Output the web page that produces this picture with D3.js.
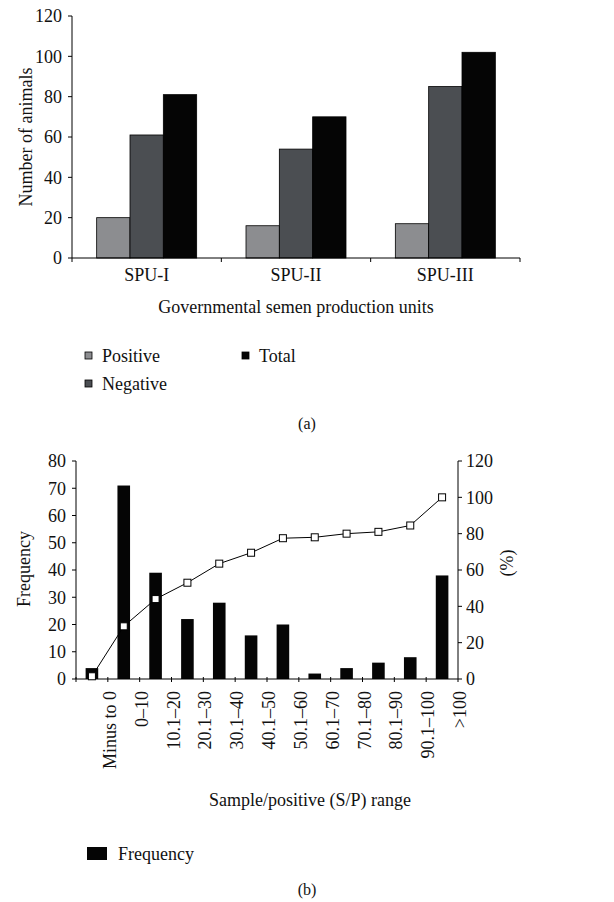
<!DOCTYPE html>
<html>
<head>
<meta charset="utf-8">
<script src="https://cdn.jsdelivr.net/npm/d3@7"></script>
<style>
  body { margin: 0; background: #fff; }
  text { font-family: "Liberation Serif", serif; fill: #111; }
</style>
</head>
<body>
<script>
// chart (a) data
const units = ['SPU-I', 'SPU-II', 'SPU-III'];
const series = ['Positive', 'Negative', 'Total'];
const positive = [20, 16, 17];
const negative = [61, 54, 85];
const total = [81, 70, 102];
const colA = ['#8c8d90', '#4b4e52', '#050505'];
const ticksA = [0, 20, 40, 60, 80, 100, 120];

// chart (b) data
const ranges = ['Minus to 0', '0\u201310', '10.1\u201320', '20.1\u201330', '30.1\u201340', '40.1\u201350',
  '50.1\u201360', '60.1\u201370', '70.1\u201380', '80.1\u201390', '90.1\u2013100', '>100'];
const freq = [4, 71, 39, 22, 28, 16, 20, 2, 4, 6, 8, 38];
const cumPct = [1.5, 29, 44, 53, 63.5, 69.5, 77.5, 78, 80, 81, 84.5, 100];
const ticksL = [0, 10, 20, 30, 40, 50, 60, 70, 80];
const ticksR = [0, 20, 40, 60, 80, 100, 120];

const FS = 18;
const svg = d3.select('body').append('svg').attr('width', 614).attr('height', 902);

//////////////////////////////////////
// (a) grouped bars
//////////////////////////////////////
let xa = d3.scaleBand().domain(units).range([72, 520]);
let xs = d3.scaleBand().domain(series).range([0, 100]);
let ya = d3.scaleLinear().domain([0, 120]).range([258, 16]);
let vals = [positive, negative, total];

let ga = svg.append('g');
units.forEach((u, i) => {
  let off = xa(u) + (xa.bandwidth() - 100) / 2;
  series.forEach((s, j) => {
    ga.append('rect')
      .attr('x', off + xs(s))
      .attr('y', ya(vals[j][i]))
      .attr('width', xs.bandwidth())
      .attr('height', ya(0) - ya(vals[j][i]))
      .attr('fill', colA[j])
      .attr('stroke', '#000')
      .attr('stroke-width', 0.8);
  });
});

// axes (a)
ga.append('line').attr('x1', 72).attr('x2', 72).attr('y1', ya(120)).attr('y2', ya(0)).attr('stroke', '#000');
ga.append('line').attr('x1', 72).attr('x2', 520).attr('y1', ya(0)).attr('y2', ya(0)).attr('stroke', '#000');
ticksA.forEach(t => {
  ga.append('line').attr('x1', 68).attr('x2', 72).attr('y1', ya(t)).attr('y2', ya(t)).attr('stroke', '#000');
  ga.append('text').attr('x', 62).attr('y', ya(t)).attr('dy', '0.35em')
    .attr('text-anchor', 'end').attr('font-size', FS).text(t);
});
units.concat(['end']).forEach((u, i) => {
  let x = 72 + i * xa.bandwidth();
  ga.append('line').attr('x1', x).attr('x2', x).attr('y1', ya(0)).attr('y2', ya(0) + 4).attr('stroke', '#000');
});
units.forEach(u => {
  ga.append('text').attr('x', xa(u) + xa.bandwidth() / 2).attr('y', 281)
    .attr('text-anchor', 'middle').attr('font-size', FS).text(u);
});
ga.append('text').attr('x', 296).attr('y', 313).attr('text-anchor', 'middle')
  .attr('font-size', FS).text('Governmental semen production units');
ga.append('text').attr('transform', 'translate(32,137)rotate(-90)').attr('text-anchor', 'middle')
  .attr('font-size', FS).text('Number of animals');

// legend (a)
const legA = [[85, 356], [85, 384], [242, 356]];
series.forEach((s, j) => {
  ga.append('rect').attr('x', legA[j][0]).attr('y', legA[j][1] - 4).attr('width', 7).attr('height', 7)
    .attr('fill', colA[j]).attr('stroke', '#000').attr('stroke-width', 0.8);
  ga.append('text').attr('x', legA[j][0] + 17).attr('y', legA[j][1]).attr('dy', '0.35em')
    .attr('font-size', FS).text(s);
});
ga.append('text').attr('x', 307).attr('y', 429).attr('text-anchor', 'middle').attr('font-size', 16).text('(a)');

//////////////////////////////////////
// (b) histogram with cumulative line
//////////////////////////////////////
let xb = d3.scaleBand().domain(ranges).range([76, 458]);
let yl = d3.scaleLinear().domain([0, 80]).range([679, 461]);
let yr = d3.scaleLinear().domain([0, 120]).range([679, 461]);
let cx = r => xb(r) + xb.bandwidth() / 2;

let gb = svg.append('g');
ranges.forEach((r, i) => {
  gb.append('rect')
    .attr('x', cx(r) - 6.3)
    .attr('y', yl(freq[i]))
    .attr('width', 12.6)
    .attr('height', yl(0) - yl(freq[i]))
    .attr('fill', '#050505');
});

// axes (b)
gb.append('line').attr('x1', 76).attr('x2', 76).attr('y1', yl(80)).attr('y2', yl(0)).attr('stroke', '#000');
gb.append('line').attr('x1', 458).attr('x2', 458).attr('y1', yr(120)).attr('y2', yr(0)).attr('stroke', '#000');
gb.append('line').attr('x1', 76).attr('x2', 458).attr('y1', yl(0)).attr('y2', yl(0)).attr('stroke', '#000');
ticksL.forEach(t => {
  gb.append('line').attr('x1', 72).attr('x2', 76).attr('y1', yl(t)).attr('y2', yl(t)).attr('stroke', '#000');
  gb.append('text').attr('x', 66).attr('y', yl(t)).attr('dy', '0.35em')
    .attr('text-anchor', 'end').attr('font-size', FS).text(t);
});
ticksR.forEach(t => {
  gb.append('line').attr('x1', 458).attr('x2', 462).attr('y1', yr(t)).attr('y2', yr(t)).attr('stroke', '#000');
  gb.append('text').attr('x', 466).attr('y', yr(t)).attr('dy', '0.35em')
    .attr('text-anchor', 'start').attr('font-size', FS).text(t);
});
ranges.forEach((r, i) => {
  let x = xb(r);
  gb.append('line').attr('x1', x).attr('x2', x).attr('y1', yl(0) - 2).attr('y2', yl(0) + 3).attr('stroke', '#000');
  gb.append('text')
    .attr('transform', 'translate(' + (cx(r) + 24) + ',' + 691 + ')rotate(-90)')
    .attr('text-anchor', 'end').attr('font-size', FS).text(r);
});
gb.append('line').attr('x1', 458).attr('x2', 458).attr('y1', yl(0)).attr('y2', yl(0) + 3).attr('stroke', '#000');

// cumulative line
gb.append('path')
  .datum(cumPct)
  .attr('d', d3.line().x((d, i) => cx(ranges[i])).y(d => yr(d)))
  .attr('fill', 'none').attr('stroke', '#000').attr('stroke-width', 1);
cumPct.forEach((d, i) => {
  gb.append('rect').attr('x', cx(ranges[i]) - 3.5).attr('y', yr(d) - 3.5)
    .attr('width', 7).attr('height', 7).attr('fill', '#fff').attr('stroke', '#000').attr('stroke-width', 1);
});

gb.append('text').attr('transform', 'translate(30,569)rotate(-90)').attr('text-anchor', 'middle')
  .attr('font-size', FS).text('Frequency');
gb.append('text').attr('transform', 'translate(513,563)rotate(-90)').attr('text-anchor', 'middle')
  .attr('font-size', FS).text('(%)');
gb.append('text').attr('x', 310).attr('y', 806).attr('text-anchor', 'middle')
  .attr('font-size', FS).text('Sample/positive (S/P) range');

// legend (b)
gb.append('rect').attr('x', 87).attr('y', 847).attr('width', 20).attr('height', 13).attr('fill', '#050505');
gb.append('text').attr('x', 118).attr('y', 860).attr('font-size', FS).text('Frequency');
gb.append('text').attr('x', 307).attr('y', 895).attr('text-anchor', 'middle').attr('font-size', 16).text('(b)');
</script>
</body>
</html>
